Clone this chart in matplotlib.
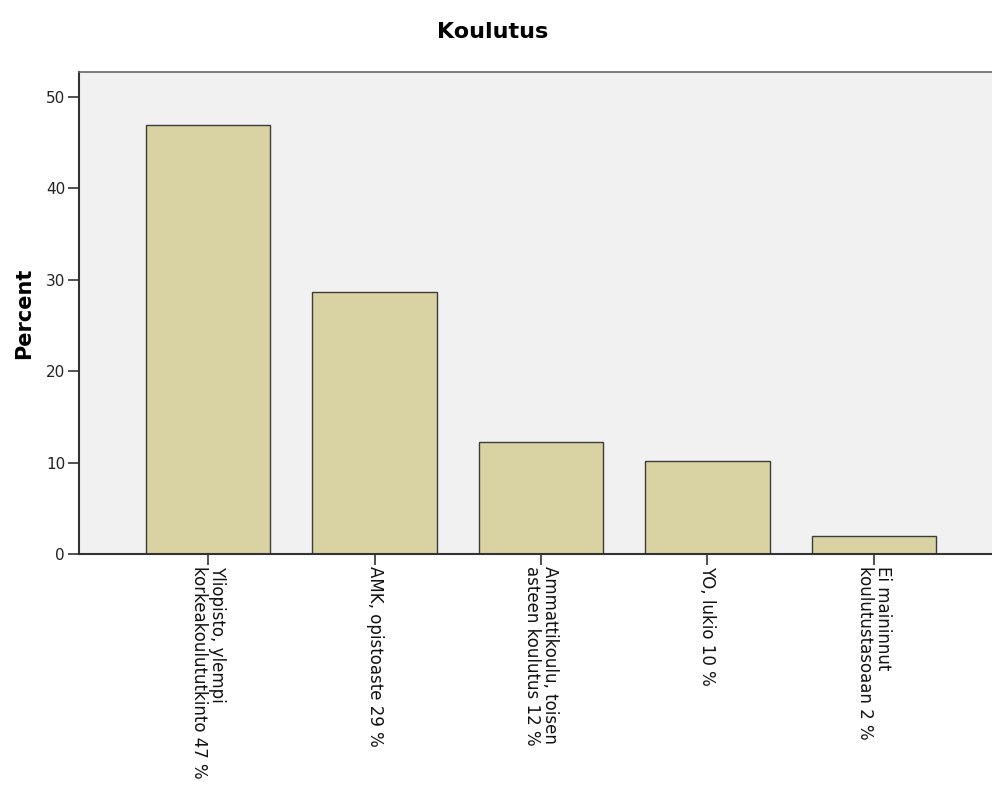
import matplotlib.pyplot as plt

categories = [
    "Yliopisto, ylempi\nkorkeakoulututkinto 47 %",
    "AMK, opistoaste 29 %",
    "Ammattikoulu, toisen\nasteen koulutus 12 %",
    "YO, lukio 10 %",
    "Ei maininnut\nkoulutustasoaan 2 %",
]
percent = [46.9, 28.6, 12.2, 10.2, 2.0]
yticks = [0, 10, 20, 30, 40, 50]

fig = plt.figure(figsize=(9.92, 7.89), dpi=100)
ax = fig.add_axes([79 / 992, 235 / 789, 924 / 992, 482 / 789])
ax.set_facecolor("#f1f1f1")

x = range(len(categories))
ax.bar(x, percent, width=0.75, color="#d9d3a4", edgecolor="#3c3c3c", linewidth=1.0)

ax.set_xlim(-0.775, len(categories) - 1 + 0.775)
ax.set_ylim(0, 52.7)
ax.set_yticks(yticks)
ax.set_xticks(list(x))
ax.set_xticklabels(categories, rotation=270, ha="center", va="top",
                   multialignment="left", fontsize=12, color="#111111",
                   linespacing=1.0)
ax.tick_params(axis="y", labelsize=11, length=8, width=1.2, color="#333333",
               labelcolor="#222222", pad=2)
ax.tick_params(axis="x", length=8, width=1.2, color="#333333", pad=1)

for side in ["left", "bottom"]:
    ax.spines[side].set_color("#333333")
    ax.spines[side].set_linewidth(1.5)
ax.spines["top"].set_color("#666666")
ax.spines["top"].set_linewidth(1.2)
ax.spines["right"].set_visible(False)

ax.set_ylabel("Percent", fontsize=15, fontweight="bold", labelpad=8)
fig.text(0.497, 1 - 32 / 789, "Koulutus", ha="center", va="center",
         fontsize=16, fontweight="bold")

fig.savefig("out.png", dpi=100)
